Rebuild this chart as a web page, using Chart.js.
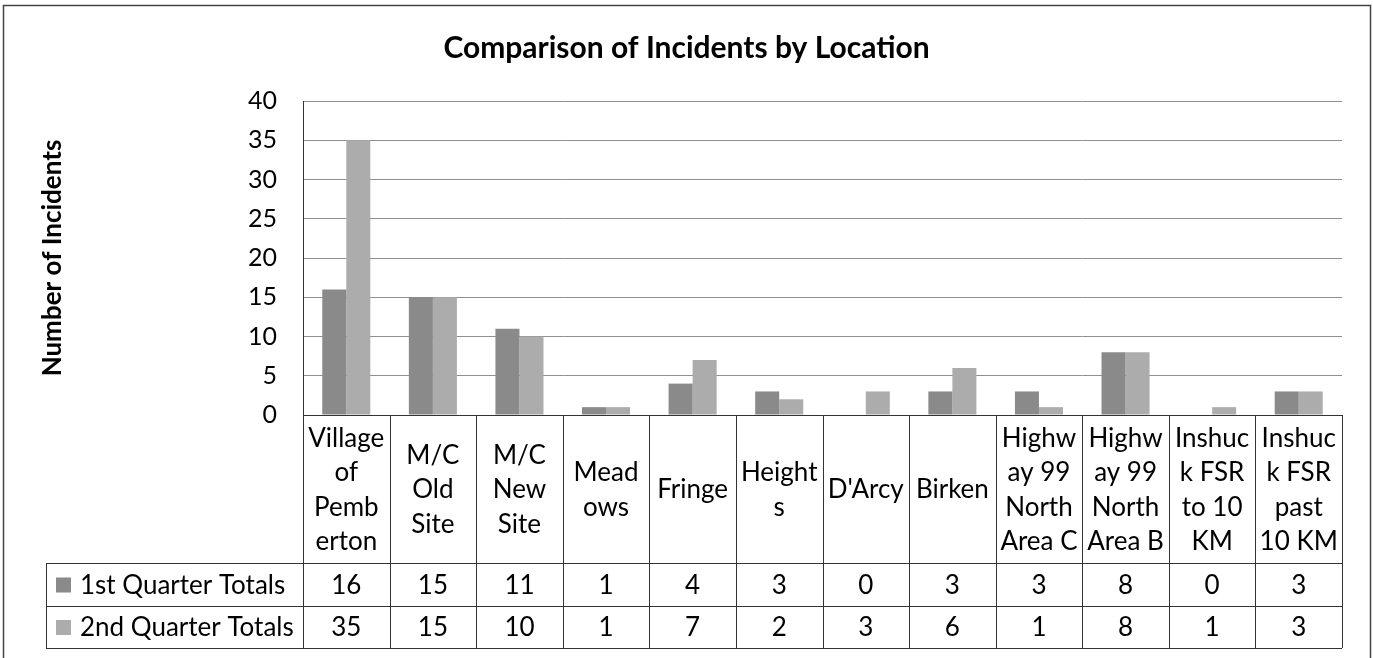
<!DOCTYPE html>
<html>
<head>
<meta charset="utf-8">
<script src="https://cdn.jsdelivr.net/npm/chart.js@4.4.1/dist/chart.umd.min.js"></script>
<style>
  html, body { margin: 0; padding: 0; background: #ffffff; }
  #wrap { width: 1373px; height: 658px; }
</style>
</head>
<body>
<div id="wrap"><canvas id="c" width="1373" height="658"></canvas></div>
<script>
const categories = ["Village of Pemberton", "M/C Old Site", "M/C New Site", "Meadows", "Fringe", "Heights", "D'Arcy", "Birken", "Highway 99 North Area C", "Highway 99 North Area B", "Inshuck FSR to 10 KM", "Inshuck FSR past 10 KM"];
const categoryLines = [
  ["Village", "of", "Pemb", "erton"],
  ["M/C", "Old", "Site"],
  ["M/C", "New", "Site"],
  ["Mead", "ows"],
  ["Fringe"],
  ["Height", "s"],
  ["D'Arcy"],
  ["Birken"],
  ["Highw", "ay 99", "North", "Area C"],
  ["Highw", "ay 99", "North", "Area B"],
  ["Inshuc", "k FSR", "to 10", "KM"],
  ["Inshuc", "k FSR", "past", "10 KM"]
];
const seriesNames = ["1st Quarter Totals", "2nd Quarter Totals"];
const q1Totals = [16, 15, 11, 1, 4, 3, 0, 3, 3, 8, 0, 3];
const q2Totals = [35, 15, 10, 1, 7, 2, 3, 6, 1, 8, 1, 3];
const yTicks = [0, 5, 10, 15, 20, 25, 30, 35, 40];

const FONT = "Lato, 'Open Sans', sans-serif";
const colors = ["#8a8a8a", "#acacac"];

const tablePlugin = {
  id: 'dataTable',
  beforeDraw(chart) {
    const ctx = chart.ctx;
    ctx.save();
    ctx.fillStyle = '#ffffff';
    ctx.fillRect(0, 0, chart.width, chart.height);
    ctx.strokeStyle = '#444';
    ctx.lineWidth = 1.5;
    ctx.strokeRect(3.5, 5.5, 1367, 660);
    ctx.restore();
  },
  afterDraw(chart) {
    const ctx = chart.ctx;
    const xs = chart.scales.x;
    const area = chart.chartArea;
    const n = categories.length;
    const cw = (area.right - area.left) / n;
    const top = area.bottom;
    const headerBottom = 563;
    const row1Bottom = 606;
    const row2Bottom = 648;
    const legendLeft = 46;
    ctx.save();
    ctx.strokeStyle = '#333';
    ctx.lineWidth = 1;
    ctx.beginPath();
    ctx.moveTo(area.left, Math.round(top) + 0.5);
    ctx.lineTo(area.right, Math.round(top) + 0.5);
    ctx.stroke();
    for (let i = 0; i <= n; i++) {
      const x = Math.round(area.left + i * cw) + 0.5;
      ctx.beginPath();
      ctx.moveTo(x, top);
      ctx.lineTo(x, row2Bottom);
      ctx.stroke();
    }
    [headerBottom, row1Bottom, row2Bottom].forEach(y => {
      ctx.beginPath();
      ctx.moveTo(legendLeft, y + 0.5);
      ctx.lineTo(area.right, y + 0.5);
      ctx.stroke();
    });
    ctx.beginPath();
    ctx.moveTo(legendLeft + 0.5, headerBottom);
    ctx.lineTo(legendLeft + 0.5, row2Bottom);
    ctx.stroke();

    ctx.fillStyle = '#000';
    ctx.font = "26px " + FONT;
    ctx.textAlign = 'center';
    ctx.textBaseline = 'middle';
    const lh = 34.5;
    const headerMid = 490;
    categoryLines.forEach((lines, i) => {
      const cx = xs.getPixelForValue(i);
      const y0 = headerMid - (lines.length - 1) * lh / 2;
      lines.forEach((ln, j) => ctx.fillText(ln, cx, y0 + j * lh));
    });
    const rows = [q1Totals, q2Totals];
    const rowMids = [(headerBottom + row1Bottom) / 2 + 1, (row1Bottom + row2Bottom) / 2 + 1];
    rows.forEach((vals, r) => {
      vals.forEach((v, i) => {
        ctx.fillText(String(v), xs.getPixelForValue(i), rowMids[r]);
      });
      ctx.fillStyle = colors[r];
      ctx.fillRect(56, rowMids[r] - 8, 15, 15);
      ctx.fillStyle = '#000';
      ctx.textAlign = 'left';
      ctx.fillText(seriesNames[r], 80, rowMids[r]);
      ctx.textAlign = 'center';
    });
    ctx.restore();
  }
};

new Chart(document.getElementById('c'), {
  type: 'bar',
  data: {
    labels: categories,
    datasets: [
      { label: seriesNames[0], data: q1Totals, backgroundColor: colors[0], borderWidth: 0, categoryPercentage: 0.555, barPercentage: 1.0 },
      { label: seriesNames[1], data: q2Totals, backgroundColor: colors[1], borderWidth: 0, categoryPercentage: 0.555, barPercentage: 1.0 }
    ]
  },
  options: {
    responsive: false,
    animation: false,
    layout: { padding: { left: 31, right: 31, top: 0, bottom: 10 } },
    plugins: {
      legend: { display: false },
      tooltip: { enabled: false },
      title: {
        display: true,
        text: 'Comparison of Incidents by Location',
        color: '#000',
        font: { family: FONT, size: 30, weight: 'bold', lineHeight: 1.2 },
        padding: { top: 30, bottom: 35 }
      }
    },
    scales: {
      x: {
        grid: { display: false },
        border: { display: false },
        ticks: { display: false },
        afterFit(scale) { scale.height = 233; }
      },
      y: {
        min: 0,
        max: 40,
        afterBuildTicks(scale) { scale.ticks = yTicks.map(v => ({ value: v })); },
        ticks: { color: '#000', font: { family: FONT, size: 25 }, padding: 26 },
        grid: { color: '#8f8f8f', lineWidth: 1, drawTicks: false, tickLength: 0 },
        border: { display: true, color: '#333', width: 1 },
        title: {
          display: true,
          text: 'Number of Incidents',
          color: '#000',
          font: { family: FONT, size: 26, weight: 'bold', lineHeight: 1.2 },
          padding: { top: 6, bottom: 0 }
        },
        afterFit(scale) { scale.width = 272; }
      }
    }
  },
  plugins: [tablePlugin]
});
</script>
</body>
</html>
